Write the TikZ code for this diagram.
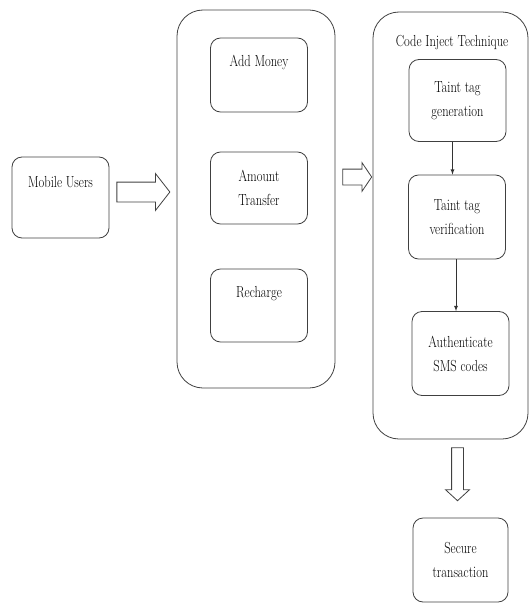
\documentclass[tikz,border=0pt]{standalone}
\usepackage{fontspec}
\newfontfamily\narrowserif[FakeStretch=0.78]{Latin Modern Roman}
\usetikzlibrary{shapes.arrows}

\begin{document}
\begin{tikzpicture}[x=1pt, y=1pt, >=latex,
  every node/.style={font=\narrowserif\fontsize{16}{24}\selectfont},
  blk/.style={draw=black!75, line width=0.8pt, rounded corners=10pt, minimum width=97pt, align=center, inner sep=0pt},
  topped/.style={text height=11pt, text depth=#1},
  outer/.style={draw=black!75, line width=0.8pt, rounded corners=26pt, inner sep=0pt},
  fat/.style={single arrow, draw=black!75, line width=0.8pt, inner sep=0pt}]
\useasboundingbox (0,0) rectangle (530,-604);

\node (mob) at (60.5,-197.5) [blk, minimum height=81pt, topped=32pt] {Mobile Users};

\node (svc) at (256,-199) [outer, minimum width=158pt, minimum height=378pt] {};
\node (add) at (259,-75) [blk, minimum height=74pt, topped=27pt] {Add Money};
\node (amt) at (259,-188) [blk, minimum height=72pt] {Amount\\Transfer};
\node (rch) at (259,-305.5) [blk, minimum height=73pt, topped=28pt] {Recharge};

\node (cij) at (450.5,-225.5) [outer, minimum width=155pt, minimum height=427pt] {};
\node (cit) at (452,-43) {Code Inject Technique};
\node (gen) at (457.5,-100.5) [blk, minimum height=82pt] {Taint tag\\generation};
\node (ver) at (457,-217) [blk, minimum height=84pt] {Taint tag\\verification};
\node (auth) at (460.5,-353.5) [blk, minimum height=84pt] {Authenticate\\SMS codes};
\node (sec) at (460.5,-560) [blk, minimum width=95pt, minimum height=84pt] {Secure\\transaction};

\node (a1) at (139.5,-192) [fat, minimum height=53pt, inner ysep=9.5pt, single arrow head extend=8.5pt, single arrow tip angle=104] {};
\node (a2) at (354.5,-177) [fat, minimum height=29pt, inner ysep=7.5pt, single arrow head extend=6.5pt, single arrow tip angle=112] {};
\node (a3) at (457.5,-471.5) [fat, shape border rotate=270, minimum height=53pt, inner xsep=5.5pt, inner ysep=5.5pt, single arrow head extend=6pt, single arrow tip angle=95] {};

\draw [->, draw=black!80, line width=0.8pt] ([xshift=-5pt]gen.south) -- ([xshift=-5pt]gen.south |- ver.north);
\draw [->, draw=black!80, line width=0.8pt] ([xshift=-1pt]ver.south) -- ([xshift=-1pt]ver.south |- auth.north);
\end{tikzpicture}
\end{document}
